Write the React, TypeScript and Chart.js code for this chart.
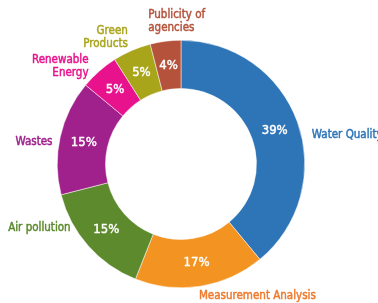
import React, { useEffect, useRef } from "react";
import { Chart, registerables } from "chart.js";

Chart.register(...registerables);

const categories = [
  "Water Quality",
  "Measurement Analysis",
  "Air pollution",
  "Wastes",
  "Renewable Energy",
  "Green Products",
  "Publicity of agencies",
];
const values = [39, 17, 15, 15, 5, 5, 4];
const labelLines = [
  ["Water Quality"],
  ["Measurement Analysis"],
  ["Air pollution"],
  ["Wastes"],
  ["Renewable", "Energy"],
  ["Green", "Products"],
  ["Publicity of", "agencies"],
];
const sliceColors = ["#2E75B8", "#F39321", "#5C8A2D", "#A0218C", "#E8138C", "#A9A51B", "#B5523B"];
const textColors = ["#2E75B8", "#EE7A2E", "#5C8A2D", "#A0218C", "#E8138C", "#A9A51B", "#B5523B"];
// label placement style: alignment and small nudges from the arc's mid-angle anchor
const labelAlign: CanvasTextAlign[] = ["left", "left", "right", "right", "right", "right", "left"];
const labelNudge = [
  [5, 16],
  [-3, 0],
  [-10, -24],
  [2, 7],
  [-4, 3],
  [0, -4],
  [-16, -10],
];

const FONT = '"DejaVu Sans Condensed", "DejaVu Sans", sans-serif';

function heavyText(ctx: CanvasRenderingContext2D, s: string, x: number, y: number, color: string) {
  ctx.fillStyle = color;
  ctx.strokeStyle = color;
  ctx.lineWidth = 0.45;
  ctx.lineJoin = "round";
  ctx.fillText(s, x, y);
  ctx.strokeText(s, x, y);
}

const labelPlugin = {
  id: "sliceLabels",
  afterDatasetsDraw(chart: any) {
    const ctx = chart.ctx;
    const meta = chart.getDatasetMeta(0);
    const total = values.reduce((a, b) => a + b, 0);
    meta.data.forEach((arc: any, i: number) => {
      const { x, y, startAngle, endAngle, innerRadius, outerRadius } = arc.getProps(
        ["x", "y", "startAngle", "endAngle", "innerRadius", "outerRadius"],
        true
      );
      const mid = (startAngle + endAngle) / 2;
      const rMid = (innerRadius + outerRadius) / 2;
      ctx.save();
      ctx.font = `13px ${FONT}`;
      ctx.textAlign = "center";
      ctx.textBaseline = "middle";
      const pct = Math.round((values[i] / total) * 100) + "%";
      heavyText(ctx, pct, x + Math.cos(mid) * rMid, y + Math.sin(mid) * rMid, "#ffffff");
      const rOut = outerRadius + 10;
      const ax = x + Math.cos(mid) * rOut + labelNudge[i][0];
      const ay = y + Math.sin(mid) * rOut + labelNudge[i][1];
      ctx.font = `11.5px ${FONT}`;
      ctx.textAlign = labelAlign[i];
      const lines = labelLines[i];
      const lh = 13;
      lines.forEach((ln, k) => {
        heavyText(ctx, ln, ax, ay + (k - (lines.length - 1) / 2) * lh, textColors[i]);
      });
      ctx.restore();
    });
  },
};

export default function App() {
  const ref = useRef<HTMLCanvasElement | null>(null);
  useEffect(() => {
    if (!ref.current) return;
    const chart = new Chart(ref.current, {
      type: "doughnut",
      data: {
        labels: categories,
        datasets: [
          {
            data: values,
            backgroundColor: sliceColors,
            borderColor: "#ffffff",
            borderWidth: 0.5,
          },
        ],
      },
      options: {
        responsive: false,
        animation: false,
        cutout: "61%",
        layout: { padding: { top: 40, bottom: 15, left: 57, right: 73 } },
        plugins: {
          legend: { display: false },
          tooltip: { enabled: false },
        },
      },
      plugins: [labelPlugin],
    });
    return () => chart.destroy();
  }, []);
  return (
    <div style={{ position: "fixed", left: 0, top: 0, width: 378, height: 303, background: "#fff" }}>
      <canvas ref={ref} width={378} height={303} style={{ display: "block" }} />
    </div>
  );
}
